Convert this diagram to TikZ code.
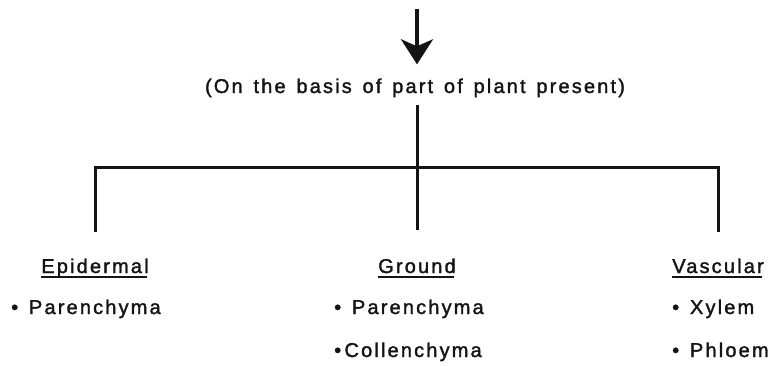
\documentclass[tikz,border=0pt]{standalone}
\usepackage{fontspec}
\setmainfont{Liberation Sans}[LetterSpace=10.8,WordSpace=1.4,FakeBold=1.6]
\usetikzlibrary{arrows.meta,positioning}
\definecolor{ink}{HTML}{141414}
\tikzset{
  every node/.style={font=\fontsize{20}{24}\selectfont,text=ink,inner sep=0pt},
  link/.style={draw=ink,line width=3pt},
  head/.style={anchor=base},
  uline/.style={draw=ink,line width=1.6pt},
  item/.style={anchor=base west},
}
\begin{document}
\begin{tikzpicture}[x=1pt,y=1pt]
  \useasboundingbox (0,0) rectangle (776,365);
  \coordinate (top) at (417,356);
  \node[anchor=base] (basis) at (415,272) {(On the basis of part of plant present)};
  \coordinate (hub) at (417,198);
  \coordinate (cl) at (95,198);
  \coordinate (cr) at (718,198);
  \coordinate (el) at (95,135);
  \coordinate (eg) at (417,135);
  \coordinate (ev) at (718,135);
  \draw[ink,line width=4pt,shorten >=14pt,-{Stealth[length=25pt,width=32pt,inset=7pt]}] (top) -- (basis.north -| top);
  \draw[link,shorten <=8pt] (basis.south -| hub) -- (hub);
  \draw[link,line cap=rect] (el) -- (cl) -- (cr) -- (ev);
  \draw[link] (hub) -- (eg);
  % headings
  \node[head] (epi) at (95,92) {Epidermal};
  \node[head] (gro) at (417,92) {Ground};
  \node[head] (vas) at (718,92) {Vascular};
  \foreach \h in {epi,gro,vas}
    \draw[uline] ([yshift=-4pt]\h.base west) -- ([yshift=-4pt,xshift=-2pt]\h.base east);
  % items
  \node[item] (epi1) at (11,51) {• Parenchyma};
  \node[item] (gro1) at (334,51) {• Parenchyma};
  \node[item] (gro2) at (334,8) {•\,Collenchyma};
  \node[item] (vas1) at (672,51) {• Xylem};
  \node[item] (vas2) at (672,8) {• Phloem};
\end{tikzpicture}
\end{document}
